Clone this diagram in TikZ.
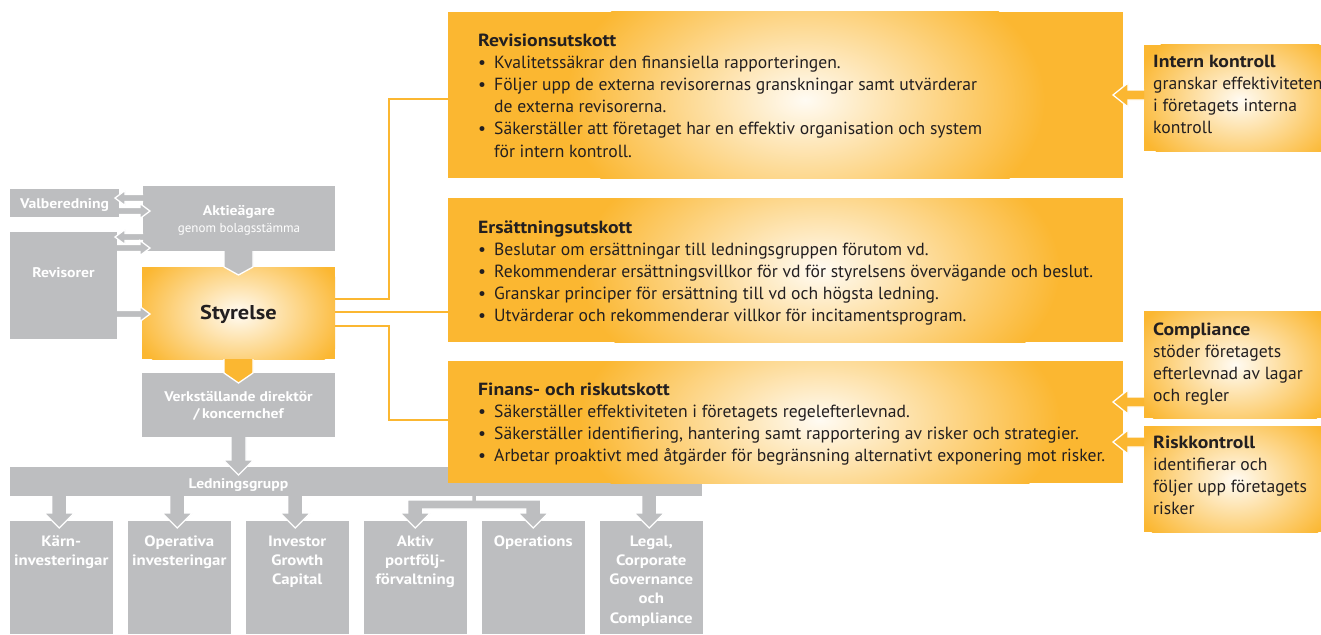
\documentclass[tikz,border=0pt]{standalone}
\usepackage{fontspec}
\setmainfont{PT Sans}[BoldFeatures={FakeStretch=1.12}]
\usetikzlibrary{calc}
\definecolor{gry}{HTML}{BDBEC0}
\definecolor{orng}{HTML}{FBB731}
\definecolor{cream}{HTML}{FFFBF3}
\definecolor{ink}{HTML}{231F20}
\newcommand\bul{\llap{\makebox[16pt][l]{•}}}
\newcommand\glow[4]{\begin{scope}\clip (#1.north west) rectangle (#1.south east);\shade[inner color=cream,outer color=orng] (#2) ellipse ({#3} and {#4});\end{scope}}
\newcommand\dnarr[6]{\path[fill=#3,draw=white,line width=1.3pt,line join=miter] let \p1=(#1), \p2=(#2) in (\x2-#4pt,\y1) -- (\x2-#4pt,\y2+#6pt) -- (\x2-#5pt,\y2+#6pt) -- (\x2,\y2) -- (\x2+#5pt,\y2+#6pt) -- (\x2+#4pt,\y2+#6pt) -- (\x2+#4pt,\y1);}
\newcommand\rtarr[6]{\path[fill=#3,draw=white,line width=1.3pt,line join=miter] let \p1=(#1), \p2=(#2) in (\x1,\y2+#4pt) -- (\x2-#6pt,\y2+#4pt) -- (\x2-#6pt,\y2+#5pt) -- (\x2,\y2) -- (\x2-#6pt,\y2-#5pt) -- (\x2-#6pt,\y2-#4pt) -- (\x1,\y2-#4pt);}
\newcommand\ltarr[6]{\path[fill=#3,draw=white,line width=1.3pt,line join=miter] let \p1=(#1), \p2=(#2) in (\x1,\y2+#4pt) -- (\x2+#6pt,\y2+#4pt) -- (\x2+#6pt,\y2+#5pt) -- (\x2,\y2) -- (\x2+#6pt,\y2-#5pt) -- (\x2+#6pt,\y2-#4pt) -- (\x1,\y2-#4pt);}
\begin{document}
\begin{tikzpicture}[x=1pt,y=-1pt,
  gbox/.style={fill=gry,inner sep=0pt,outer sep=0pt,anchor=north west},
  obox/.style={fill=orng,inner sep=0pt,outer sep=0pt,anchor=north west},
  wbold/.style={text=white,font=\bfseries\fontsize{14}{17}\selectfont,anchor=base,inner sep=0pt},
  wbig/.style={text=white,font=\bfseries\fontsize{15}{17}\selectfont,anchor=base,inner sep=0pt},
  wsmall/.style={text=white,font=\fontsize{13}{15}\selectfont,anchor=base,inner sep=0pt},
  body/.style={text=ink,font=\fontsize{17.6}{20}\selectfont,anchor=base west,inner sep=0pt},
  ttl/.style={text=ink,font=\bfseries\fontsize{17.6}{20}\selectfont,anchor=base west,inner sep=0pt},
  oline/.style={draw=orng,line width=2.6pt}]
\fill[white] (0,0) rectangle (1321,634);
\useasboundingbox (0,0) rectangle (1321,634);
% boxes
\node[gbox,minimum width=109,minimum height=28] (valb) at (10,189) {};
\node[gbox,minimum width=192,minimum height=65] (aktie) at (143,186) {};
\node[gbox,minimum width=107,minimum height=107] (revi) at (10,232) {};
\node[obox,minimum width=193,minimum height=92] (styr) at (142,267) {};
\node[gbox,minimum width=193,minimum height=64] (vd) at (142,373) {};
\node[gbox,minimum width=692,minimum height=29] (led) at (10,467) {};
\foreach \i in {0,...,5} \node[gbox,minimum width=102.5,minimum height=113] (b\i) at ({10+118*\i},521) {};
\node[obox,minimum width=675,minimum height=166] (rev) at (448,12) {};
\node[obox,minimum width=675,minimum height=144] (ers) at (448,198) {};
\node[obox,minimum width=675,minimum height=122] (fin) at (448,361) {};
\node[obox,minimum width=177,minimum height=106] (ik) at (1144,45) {};
\node[obox,minimum width=177,minimum height=107] (comp) at (1144,311) {};
\node[obox,minimum width=177,minimum height=106] (risk) at (1144,426) {};
% glows
\glow{styr}{styr.center}{110}{75}
\glow{rev}{805,100}{240}{150}
\glow{ers}{820,270}{240}{140}
\glow{fin}{820,420}{240}{130}
\glow{ik}{1240,100}{110}{80}
\glow{comp}{1235,365}{110}{80}
\glow{risk}{1235,480}{110}{80}
% orange connectors
\draw[oline] ($(styr.east)+(0,-14)$) -| ($(rev.west)+(-59,4)$) -- ($(rev.west)+(0,4)$);
\draw[oline] ($(styr.east)+(0,-1)$) coordinate (l2) -- (l2 -| ers.west);
\draw[oline] ($(styr.east)+(0,13)$) -| ($(fin.west)+(-59,-2)$) -- ($(fin.west)+(0,-2)$);
% block arrows
\dnarr{aktie.south}{$(styr.north)+(0,8)$}{gry}{14.5}{14.5}{8}
\dnarr{styr.south}{$(vd.north)+(0,10)$}{orng}{14.5}{14.5}{10}
\dnarr{vd.south}{$(vd.south |- led.north)+(0,8)$}{gry}{7.5}{15}{15}
\foreach \i in {0,1,2,5} {\dnarr{led.south}{$(b\i.north)+(-2,7)$}{gry}{7.5}{15}{15}}
\path[fill=gry,draw=white,line width=1.3pt] let \p1=(led.south), \p2=($(b3.north)+(0,7)$), \p3=($(b4.north)+(0,7)$), \p4=($(b3.north)!.5!(b4.north)$) in
  (\x4-2.5pt,\y1) -- (\x4-2.5pt,\y1-4pt) -- (\x2-7.5pt,\y1-4pt) -- (\x2-7.5pt,\y2+15pt) -- (\x2-15pt,\y2+15pt) -- (\x2,\y2) -- (\x2+15pt,\y2+15pt) -- (\x2+7.5pt,\y2+15pt) -- (\x2+7.5pt,\y1-13pt) -- (\x3-7.5pt,\y1-13pt) -- (\x3-7.5pt,\y2+15pt) -- (\x3-15pt,\y2+15pt) -- (\x3,\y2) -- (\x3+15pt,\y2+15pt) -- (\x3+7.5pt,\y2+15pt) -- (\x3+7.5pt,\y1-4pt) -- (\x4+2.5pt,\y1-4pt) -- (\x4+2.5pt,\y1);
\ltarr{aktie.west}{$(valb.east)+(-4,-5)$}{gry}{3.5}{7.5}{10}
\rtarr{valb.east}{$(aktie.west |- valb.east)+(7,8)$}{gry}{3.5}{7.5}{10}
\ltarr{aktie.west}{$(revi.north east)+(-2,5)$}{gry}{3.5}{7.5}{10}
\rtarr{revi.east}{$(aktie.south west)+(7,-3)$}{gry}{3.5}{7.5}{10}
\rtarr{revi.east}{$(styr.west)+(8,1)$}{gry}{3.5}{7.5}{10}
\ltarr{ik.west}{$(rev.east)+(-10,0)$}{orng}{5}{12}{15}
\ltarr{comp.west}{$(fin.north east)+(-10,41)$}{orng}{5}{12}{15}
\ltarr{risk.west}{$(fin.north east)+(-10,81)$}{orng}{5}{12}{15}
% left texts
\node[wbold] (valbt) at ($(valb.center)+(0,5)$) {Valberedning};
\node[wbold] (aktiet) at ($(aktie.north)+(0,29)$) {Aktieägare};
\node[wsmall] (aktie2) at ($(aktie.north)+(0,46)$) {genom bolagsstämma};
\node[wbold] (revit) at ($(revi.north)+(0,45)$) {Revisorer};
\node[text=ink,font=\bfseries\fontsize{20}{24}\selectfont,anchor=base,inner sep=0pt] (styrt) at ($(styr.center)+(0,6)$) {Styrelse};
\node[wbold] (vdt1) at ($(vd.north)+(0,28)$) {Verkställande direktör};
\node[wbold] (vdt2) at ($(vd.north)+(0,45)$) {/\,koncernchef};
\node[wbold] (ledt) at ($(vd.south |- led.north)+(0,21)$) {Ledningsgrupp};
\foreach \b/\k/\t in {b0/0/Kärn-,b0/1/investeringar,b1/0/Operativa,b1/1/investeringar,b2/0/Investor,b2/1/Growth,b2/2/Capital,b3/0/Aktiv,b3/1/portfölj-,b3/2/förvaltning,b4/0/Operations,b5/0/{Legal,},b5/1/Corporate,b5/2/Governance,b5/3/och,b5/4/Compliance}
  \node[wbig] (lab\b\k) at ($(\b.north)+(0,{25+19.3*\k})$) {\t};
% committee texts
\node[ttl] (revt) at (478,46) {Revisionsutskott};
\foreach \k/\t in {0/{\bul Kvalitetssäkrar den finansiella rapporteringen.},1/{\bul Följer upp de externa revisorernas granskningar samt utvärderar},2/{de externa revisorerna.},3/{\bul Säkerställer att företaget har en effektiv organisation och system},4/{för intern kontroll.}}
  \node[body] (revl\k) at (494,{68.2+22.2*\k}) {\t};
\node[ttl] (erst) at (478,233) {Ersättningsutskott};
\foreach \k/\t in {0/{\bul Beslutar om ersättningar till ledningsgruppen förutom vd.},1/{\bul Rekommenderar ersättningsvillkor för vd för styrelsens övervägande och beslut.},2/{\bul Granskar principer för ersättning till vd och högsta ledning.},3/{\bul Utvärderar och rekommenderar villkor för incitamentsprogram.}}
  \node[body] (ersl\k) at (494,{255.2+22.2*\k}) {\t};
\node[ttl] (fint) at (478,395) {Finans- och riskutskott};
\foreach \k/\t in {0/{\bul Säkerställer effektiviteten i företagets regelefterlevnad.},1/{\bul Säkerställer identifiering, hantering samt rapportering av risker och strategier.},2/{\bul Arbetar proaktivt med åtgärder för begränsning alternativt exponering mot risker.}}
  \node[body] (finl\k) at (494,{417.2+22.2*\k}) {\t};
% right texts
\node[ttl] (ikt) at (1153,67) {Intern kontroll};
\foreach \k/\t in {1/granskar effektiviteten,2/i företagets interna,3/kontroll}
  \node[body] (ikl\k) at (1153,{67+22.2*\k}) {\t};
\node[ttl] (compt) at (1153,335) {Compliance};
\foreach \k/\t in {1/stöder företagets,2/efterlevnad av lagar,3/och regler}
  \node[body] (compl\k) at (1153,{335+22.2*\k}) {\t};
\node[ttl] (riskt) at (1153,448) {Riskkontroll};
\foreach \k/\t in {1/identifierar och,2/följer upp företagets,3/risker}
  \node[body] (riskl\k) at (1153,{448+22.2*\k}) {\t};
\end{tikzpicture}
\end{document}
